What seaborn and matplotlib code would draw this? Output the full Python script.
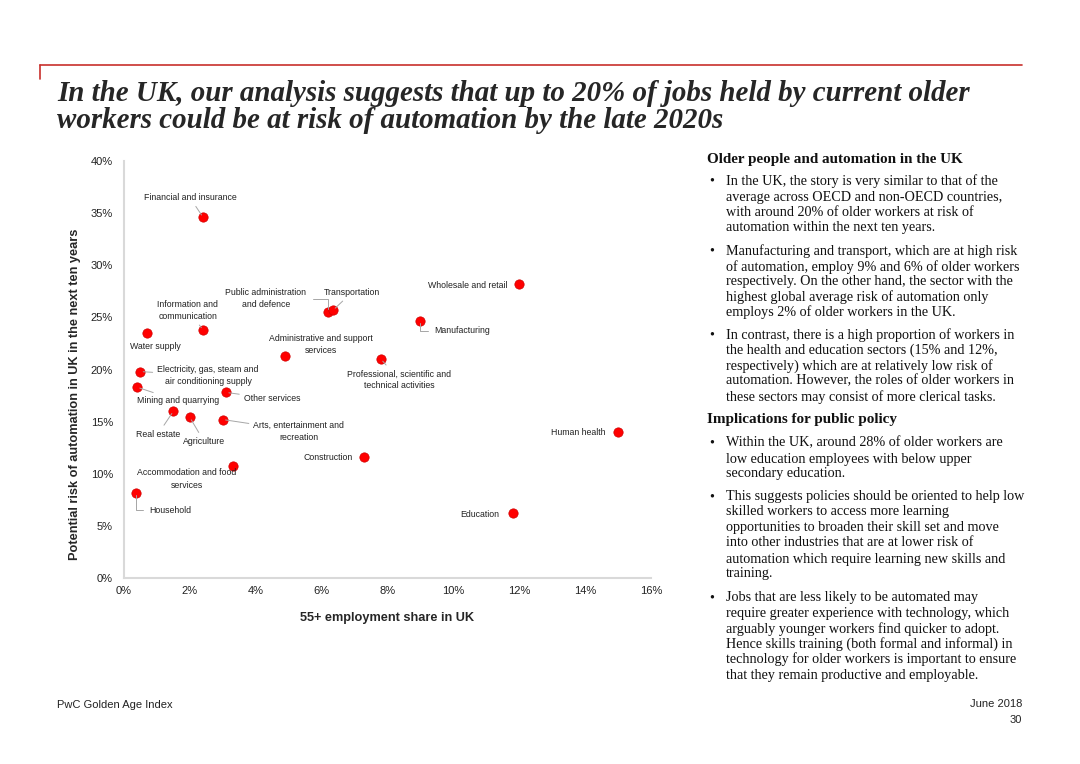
import numpy as np
import pandas as pd
import matplotlib
matplotlib.use("Agg")
import matplotlib.pyplot as plt
import seaborn as sns

# --- data ---
sectors = [
    "Financial and insurance", "Information and\ncommunication", "Water supply",
    "Public administration\nand defence", "Transportation", "Wholesale and retail",
    "Manufacturing", "Administrative and support\nservices",
    "Professional, scientific and\ntechnical activities",
    "Electricity, gas, steam and\nair conditioning supply", "Mining and quarrying",
    "Other services", "Real estate", "Agriculture",
    "Arts, entertainment and\nrecreation", "Construction",
    "Accommodation and food\nservices", "Household", "Human health", "Education",
]
employment_share = [2.4, 2.4, 0.7, 6.2, 6.35, 12.0, 9.0, 4.9, 7.8, 0.5,
                    0.4, 3.1, 1.5, 2.0, 3.0, 7.3, 3.3, 0.35, 15.0, 11.8]
automation_risk = [34.6, 23.8, 23.5, 25.5, 25.7, 28.2, 24.7, 21.3, 21.0, 19.8,
                   18.3, 17.8, 16.0, 15.4, 15.2, 11.6, 10.7, 8.2, 14.0, 6.2]

x_ticks = [0, 2, 4, 6, 8, 10, 12, 14, 16]
y_ticks = [0, 5, 10, 15, 20, 25, 30, 35, 40]

# label placement: (x, y, ha, leader style)
label_pos = {
    "Financial and insurance": (2.0, 36.5, "center", "straight"),
    "Information and\ncommunication": (1.94, 25.7, "center", "straight"),
    "Water supply": (0.94, 22.2, "center", None),
    "Public administration\nand defence": (4.31, 26.8, "center", "elbow_right"),
    "Transportation": (6.92, 27.4, "center", "straight"),
    "Wholesale and retail": (11.63, 28.1, "right", None),
    "Manufacturing": (9.41, 23.7, "left", "elbow_left"),
    "Administrative and support\nservices": (5.98, 22.4, "center", None),
    "Professional, scientific and\ntechnical activities": (8.35, 19.0, "center", "straight"),
    "Electricity, gas, steam and\nair conditioning supply": (2.55, 19.4, "center", "straight"),
    "Mining and quarrying": (0.39, 17.0, "left", "straight"),
    "Other services": (3.64, 17.2, "left", "straight"),
    "Real estate": (0.36, 13.8, "left", "straight"),
    "Agriculture": (2.43, 13.1, "center", "straight"),
    "Arts, entertainment and\nrecreation": (5.31, 14.1, "center", "straight"),
    "Construction": (6.95, 11.6, "right", None),
    "Accommodation and food\nservices": (1.91, 9.5, "center", None),
    "Household": (0.76, 6.5, "left", "elbow_left"),
    "Human health": (14.63, 14.0, "right", None),
    "Education": (11.38, 6.1, "right", None),
}

df = pd.DataFrame({"sector": sectors, "share": employment_share, "risk": automation_risk})

sns.set_style("white")
plt.rcParams["font.family"] = ["Liberation Sans", "DejaVu Sans"]

fig = plt.figure(figsize=(10.8, 7.64), dpi=100)
ax = fig.add_axes([124 / 1080, 186 / 764, 527 / 1080, 417 / 764])

sns.scatterplot(data=df, x="share", y="risk", ax=ax, color="#ff0000",
                edgecolor="#d00000", linewidth=0.5, s=45, zorder=3, legend=False)

for name, sx, ry in zip(sectors, employment_share, automation_risk):
    tx, ty, ha, leader = label_pos[name]
    arrow = None
    if leader == "straight":
        arrow = dict(arrowstyle="-", color="#a6a6a6", lw=0.7, shrinkA=1, shrinkB=2)
    elif leader == "elbow_left":
        arrow = dict(arrowstyle="-", color="#a6a6a6", lw=0.7, shrinkA=2, shrinkB=2,
                     relpos=(0, 0.5), connectionstyle="angle,angleA=0,angleB=90,rad=0")
    elif leader == "elbow_right":
        arrow = dict(arrowstyle="-", color="#a6a6a6", lw=0.7, shrinkA=2, shrinkB=2,
                     relpos=(1, 0.5), connectionstyle="angle,angleA=0,angleB=90,rad=0")
    ax.annotate(name, xy=(sx, ry), xytext=(tx, ty), ha=ha, va="center",
                fontsize=6.3, color="#222222", linespacing=1.45, arrowprops=arrow)

ax.set_xlim(0, 16)
ax.set_ylim(0, 40)
ax.set_xticks(x_ticks)
ax.set_xticklabels([f"{v}%" for v in x_ticks])
ax.set_yticks(y_ticks)
ax.set_yticklabels([f"{v}%" for v in y_ticks])
ax.tick_params(length=0, labelsize=8, colors="#222222")
ax.tick_params(axis="y", pad=8)
ax.tick_params(axis="x", pad=6)
sns.despine(ax=ax)
for side in ["left", "bottom"]:
    ax.spines[side].set_color("#d9d9d9")
    ax.spines[side].set_linewidth(1.5)

ax.set_xlabel("55+ employment share in UK", fontsize=9.2, fontweight="bold", labelpad=11)
ax.set_ylabel("Potential risk of automation in UK in the next ten years",
              fontsize=9.2, fontweight="bold")
ax.yaxis.set_label_coords(-0.082, 0.44)

# --- page decoration ---
fig.add_artist(plt.Line2D([40 / 1080, 1022 / 1080], [1 - 65 / 764, 1 - 65 / 764],
                          color="#c8302c", lw=1.2))
fig.add_artist(plt.Line2D([40 / 1080, 40 / 1080], [1 - 65 / 764, 1 - 79 / 764],
                          color="#c8302c", lw=1.2))

title_font = dict(family="Liberation Serif", style="italic", weight="bold", size=20.9)
fig.text(57 / 1080, 1 - 101 / 764, "In the UK, our analysis suggests that up to 20% of jobs held by current older",
         va="baseline", **title_font)
fig.text(57 / 1080, 1 - 128 / 764, "workers could be at risk of automation by the late 2020s",
         va="baseline", **title_font)

body = dict(family="Liberation Serif", size=10.15, color="#111111")

sections = [
    ("Older people and automation in the UK", 160, [
        ([181, 197, 212, 227], [
            "In the UK, the story is very similar to that of the",
            "average across OECD and non-OECD countries,",
            "with around 20% of older workers at risk of",
            "automation within the next ten years."]),
        ([251, 267, 282, 297, 312], [
            "Manufacturing and transport, which are at high risk",
            "of automation, employ 9% and 6% of older workers",
            "respectively. On the other hand, the sector with the",
            "highest global average risk of automation only",
            "employs 2% of older workers in the UK."]),
        ([335, 350, 366, 381, 397], [
            "In contrast, there is a high proportion of workers in",
            "the health and education sectors (15% and 12%,",
            "respectively) which are at relatively low risk of",
            "automation. However, the roles of older workers in",
            "these sectors may consist of more clerical tasks."]),
    ]),
    ("Implications for public policy", 420, [
        ([443, 459, 474], [
            "Within the UK, around 28% of older workers are",
            "low education employees with below upper",
            "secondary education."]),
        ([497, 512, 528, 543, 559, 574], [
            "This suggests policies should be oriented to help low",
            "skilled workers to access more learning",
            "opportunities to broaden their skill set and move",
            "into other industries that are at lower risk of",
            "automation which require learning new skills and",
            "training."]),
        ([598, 613, 629, 644, 659, 675], [
            "Jobs that are less likely to be automated may",
            "require greater experience with technology, which",
            "arguably younger workers find quicker to adopt.",
            "Hence skills training (both formal and informal) in",
            "technology for older workers is important to ensure",
            "that they remain productive and employable."]),
    ]),
]

for heading, hy, paras in sections:
    fig.text(707 / 1080, 1 - hy / 764, heading, va="center", weight="bold",
             family="Liberation Serif", size=10.9, color="#111111")
    for ys, lines in paras:
        fig.text(709 / 1080, 1 - ys[0] / 764, "\u2022", va="center", **body)
        for yy, line in zip(ys, lines):
            fig.text(726 / 1080, 1 - yy / 764, line, va="center", **body)

fig.text(57 / 1080, 1 - 705 / 764, "PwC Golden Age Index", va="center", fontsize=8, color="#222222")
fig.text(1022 / 1080, 1 - 704 / 764, "June 2018", va="center", ha="right", fontsize=8, color="#222222")
fig.text(1022 / 1080, 1 - 720 / 764, "30", va="center", ha="right", fontsize=8, color="#222222")

fig.savefig("out.png", dpi=100)
